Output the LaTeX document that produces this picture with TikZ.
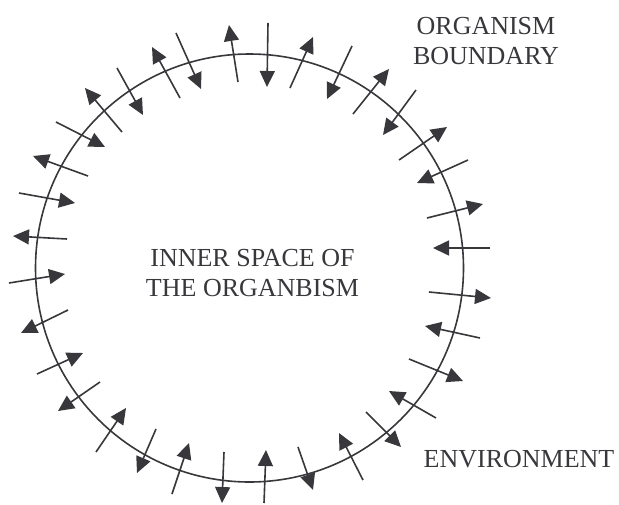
\documentclass[tikz,border=0pt]{standalone}
\usepackage{fontspec}
\setmainfont{Liberation Serif}
\usetikzlibrary{arrows.meta}
\definecolor{ink}{HTML}{38383C}
\tikzset{
  flow/.style={draw=ink, line width=1.6pt, -{Triangle[length=16pt,width=15pt]}, fill=ink},
  boundary/.style={draw=ink, line width=1.6pt},
  lbl/.style={text=ink, font=\fontsize{26}{30}\selectfont, align=center, inner sep=0pt}
}
\begin{document}
\begin{tikzpicture}[x=1pt,y=-1pt]
\useasboundingbox (0,0) rectangle (619,504);
\node[boundary, circle, minimum size=428pt, inner sep=0pt] (body) at (249.5,268) {};
\foreach \a/\b/\c/\d in {
 268/23/267/87, 238/82/229/25, 176/33/201/89, 180/98/152/47,
 117/68/143/115, 122/132/85/88, 56/122/105/147, 88/176/33/156,
 19/193/75/203, 67/239/13/236, 9/283/65/274, 68/310/21/333,
 37/374/83/353, 100/382/58/411, 96/452/126/408, 156/429/137/473,
 172/494/189/443, 224/452/222/503, 264/503/266/450, 298/447/313/490,
 363/480/339/433, 366/412/401/447, 436/418/389/391, 409/359/463/381,
 480/338/425/326, 429/292/491/298, 490/248/433/248, 427/218/483/204,
 468/160/417/183, 399/160/447/127, 416/90/383/135, 353/114/389/69,
 352/46/327/99, 290/88/313/37}
 \draw[flow] (\a,\b) -- (\c,\d);
\node[lbl, anchor=base] (inner) at (252.5,296) {INNER SPACE OF\\THE ORGANBISM};
\node[lbl, anchor=base] (bound) at (486,64) {ORGANISM\\BOUNDARY};
\node[lbl, anchor=base] (env) at (519,467) {ENVIRONMENT};
\end{tikzpicture}
\end{document}
